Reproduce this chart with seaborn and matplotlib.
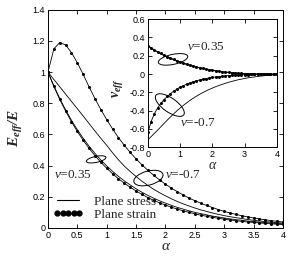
import matplotlib
matplotlib.use("Agg")
import matplotlib.pyplot as plt
import matplotlib.transforms as mtransforms
from matplotlib.patches import Ellipse
from matplotlib.lines import Line2D
from matplotlib.ticker import MultipleLocator, FormatStrFormatter
import seaborn as sns

alpha = [0.0, 0.1, 0.2, 0.3, 0.4, 0.5, 0.6, 0.7, 0.8, 0.9,
         1.0, 1.1, 1.2, 1.3, 1.4, 1.5, 1.6, 1.7, 1.8, 1.9,
         2.0, 2.1, 2.2, 2.3, 2.4, 2.5, 2.6, 2.7, 2.8, 2.9,
         3.0, 3.1, 3.2, 3.3, 3.4, 3.5, 3.6, 3.7, 3.8, 3.9, 4.0]

# Eeff/E (main plot)
e_stress_035 = [1.000, 0.912, 0.831, 0.758, 0.691, 0.630, 0.575, 0.524, 0.478, 0.436,
                0.398, 0.363, 0.331, 0.302, 0.276, 0.251, 0.229, 0.209, 0.191, 0.174,
                0.159, 0.145, 0.132, 0.121, 0.110, 0.100, 0.092, 0.084, 0.076, 0.070,
                0.064, 0.058, 0.053, 0.049, 0.044, 0.041, 0.037, 0.034, 0.031, 0.028, 0.026]
e_strain_035 = [1.000, 0.908, 0.825, 0.750, 0.681, 0.619, 0.562, 0.511, 0.464, 0.421,
                0.383, 0.348, 0.316, 0.287, 0.261, 0.237, 0.215, 0.195, 0.177, 0.161,
                0.147, 0.133, 0.121, 0.110, 0.100, 0.091, 0.082, 0.075, 0.068, 0.062,
                0.056, 0.051, 0.046, 0.042, 0.038, 0.035, 0.032, 0.029, 0.026, 0.024, 0.022]
e_stress_m07 = [1.000, 0.953, 0.906, 0.859, 0.812, 0.765, 0.718, 0.670, 0.622, 0.575,
                0.530, 0.482, 0.437, 0.397, 0.362, 0.330, 0.300, 0.273, 0.248, 0.226,
                0.206, 0.187, 0.170, 0.155, 0.141, 0.128, 0.116, 0.106, 0.096, 0.087,
                0.079, 0.072, 0.066, 0.060, 0.054, 0.049, 0.045, 0.041, 0.037, 0.034, 0.031]
e_strain_m07 = [1.000, 1.150, 1.190, 1.175, 1.125, 1.060, 0.985, 0.905, 0.830, 0.760,
                0.695, 0.635, 0.580, 0.530, 0.485, 0.443, 0.405, 0.370, 0.338, 0.308,
                0.281, 0.256, 0.233, 0.212, 0.192, 0.175, 0.159, 0.144, 0.131, 0.118,
                0.106, 0.096, 0.087, 0.078, 0.071, 0.064, 0.058, 0.052, 0.047, 0.042, 0.038]

# nu_eff (inset)
nu_stress_035 = [0.305, 0.281, 0.258, 0.238, 0.219, 0.201, 0.184, 0.168, 0.153, 0.140,
                 0.127, 0.115, 0.104, 0.094, 0.084, 0.075, 0.067, 0.059, 0.052, 0.046,
                 0.040, 0.034, 0.029, 0.025, 0.021, 0.017, 0.013, 0.010, 0.008, 0.005,
                 0.003, 0.002, 0.001, 0.000, -0.001, -0.001, -0.002, -0.002, -0.002, -0.003, -0.003]
nu_strain_035 = [0.310, 0.287, 0.265, 0.245, 0.226, 0.208, 0.191, 0.175, 0.160, 0.146,
                 0.133, 0.120, 0.109, 0.098, 0.088, 0.079, 0.070, 0.062, 0.055, 0.048,
                 0.042, 0.036, 0.031, 0.026, 0.022, 0.018, 0.014, 0.011, 0.008, 0.006,
                 0.004, 0.002, 0.001, 0.000, -0.001, -0.002, -0.002, -0.003, -0.003, -0.003, -0.003]
nu_stress_m07 = [-0.720, -0.685, -0.650, -0.615, -0.578, -0.541, -0.505, -0.470, -0.436, -0.403,
                 -0.372, -0.343, -0.316, -0.290, -0.266, -0.244, -0.223, -0.204, -0.186, -0.169,
                 -0.154, -0.139, -0.126, -0.114, -0.102, -0.091, -0.081, -0.072, -0.063, -0.056,
                 -0.049, -0.042, -0.037, -0.032, -0.027, -0.023, -0.019, -0.016, -0.013, -0.010, -0.008]
nu_strain_m07 = [-0.640, -0.520, -0.435, -0.372, -0.322, -0.280, -0.245, -0.215, -0.188, -0.165,
                 -0.145, -0.128, -0.112, -0.098, -0.086, -0.075, -0.066, -0.058, -0.050, -0.044,
                 -0.038, -0.033, -0.029, -0.025, -0.021, -0.018, -0.015, -0.013, -0.011, -0.009,
                 -0.007, -0.006, -0.005, -0.004, -0.003, -0.002, -0.002, -0.001, -0.001, -0.001, 0.000]

legend_labels = ["Plane stress", "Plane strain"]

sns.set_style("ticks")
plt.rcParams["font.family"] = ["Liberation Sans", "DejaVu Sans"]
plt.rcParams["mathtext.fontset"] = "custom"
plt.rcParams["mathtext.rm"] = "Liberation Serif"
plt.rcParams["mathtext.it"] = "Liberation Serif:italic"
plt.rcParams["mathtext.bf"] = "Liberation Serif:bold"
plt.rcParams["mathtext.bfit"] = "Liberation Serif:italic:bold"

serif = "Liberation Serif"

fig = plt.figure(figsize=(3.0, 2.59), dpi=100)
ax = fig.add_axes([0.16, 0.12, 0.783, 0.842])
ins = fig.add_axes([0.493, 0.432, 0.43, 0.494])


def draw_curves(a, stress1, strain1, stress2, strain2):
    for ys in (stress1, stress2):
        sns.lineplot(x=alpha, y=ys, ax=a, color="k", lw=0.6)
    for ys in (strain1, strain2):
        sns.lineplot(x=alpha, y=ys, ax=a, color="k", lw=0.6,
                     marker="o", markersize=2.2, markeredgewidth=0)


def ring(a, x, y, w, h, ang):
    # ellipse sized in pixels, placed at a data point
    tr = fig.dpi_scale_trans + mtransforms.ScaledTranslation(x, y, a.transData)
    a.add_patch(Ellipse((0, 0), w / 100, h / 100, angle=ang, transform=tr,
                        fill=False, lw=0.7, color="k", clip_on=False))


draw_curves(ax, e_stress_035, e_strain_035, e_stress_m07, e_strain_m07)
draw_curves(ins, nu_stress_035, nu_strain_035, nu_stress_m07, nu_strain_m07)

ax.set_xlim(0, 4)
ax.set_ylim(0, 1.4)
ax.xaxis.set_major_locator(MultipleLocator(0.5))
ax.yaxis.set_major_locator(MultipleLocator(0.2))
ax.xaxis.set_major_formatter(FormatStrFormatter("%g"))
ax.yaxis.set_major_formatter(FormatStrFormatter("%g"))

ins.set_xlim(0, 4)
ins.set_ylim(-0.8, 0.6)
ins.xaxis.set_major_locator(MultipleLocator(1))
ins.yaxis.set_major_locator(MultipleLocator(0.2))
ins.xaxis.set_major_formatter(FormatStrFormatter("%g"))
ins.yaxis.set_major_formatter(FormatStrFormatter("%g"))

for a in (ax, ins):
    a.tick_params(direction="in", top=True, right=True, length=3, width=0.6,
                  labelsize=6.5, pad=2, colors="k")
    for sp in a.spines.values():
        sp.set_linewidth(0.7)
        sp.set_color("k")
    a.set_facecolor("white")

ax.set_xlabel("α", fontfamily=serif, fontstyle="italic", fontsize=11)
ax.xaxis.set_label_coords(0.5, -0.055)
ax.set_ylabel(r"$\mathbfit{E_{eff}/E}$", fontsize=11)
ax.yaxis.set_label_coords(-0.1, 0.46)

ins.set_xlabel("α", fontfamily=serif, fontstyle="italic", fontsize=10)
ins.xaxis.set_label_coords(0.5, -0.09)
ins.set_ylabel(r"$\mathbfit{\nu_{eff}}$", fontsize=10)
ins.yaxis.set_label_coords(-0.175, 0.46)

# labels and rings in main plot
ax.text(0.1, 0.34, r"$\nu$=0.35", fontfamily=serif, fontsize=9.5, ha="left", va="center")
ring(ax, 0.82, 0.44, 20, 6, 12)
ax.text(2.0, 0.34, r"$\nu$=-0.7", fontfamily=serif, fontsize=9.5, ha="left", va="center")
ring(ax, 1.71, 0.32, 30, 14, 15)

# labels and rings in inset
ins.text(1.2, 0.29, r"$\nu$=0.35", fontfamily=serif, fontsize=9.5, ha="left", va="center")
ring(ins, 0.78, 0.16, 30, 10, 12)
ins.text(1.0, -0.54, r"$\nu$=-0.7", fontfamily=serif, fontsize=9.5, ha="left", va="center")
ring(ins, 0.68, -0.34, 34, 14, -35)

handles = [Line2D([], [], color="k", lw=0.8),
           Line2D([], [], color="k", lw=0.8, marker="o", markersize=3.5)]
ax.legend(handles, legend_labels, loc="lower left", bbox_to_anchor=(0.01, 0.02),
          frameon=False, numpoints=5, handlelength=2.3, handletextpad=0.8,
          labelspacing=0.05, borderaxespad=0, borderpad=0.2,
          prop={"family": serif, "size": 9.5})

fig.savefig("out.png", dpi=100)
